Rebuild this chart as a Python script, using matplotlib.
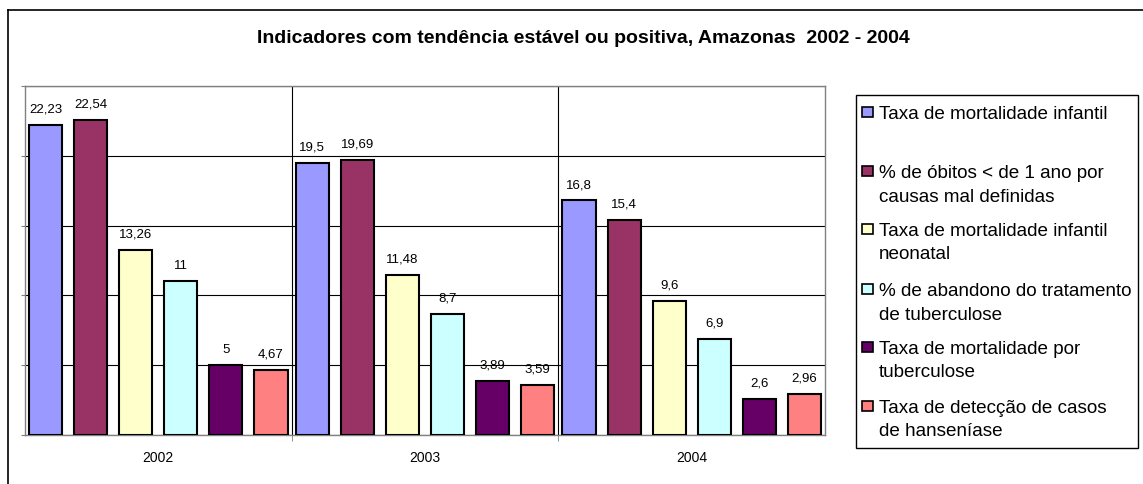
import matplotlib.pyplot as plt
import numpy as np
from matplotlib.patches import Rectangle

plt.rcParams["font.family"] = ["Liberation Sans", "DejaVu Sans"]

# anos (categorias) e séries
anos = ["2002", "2003", "2004"]
series = [
    "Taxa de mortalidade infantil",
    "% de óbitos < de 1 ano por\ncausas mal definidas",
    "Taxa de mortalidade infantil\nneonatal",
    "% de abandono do tratamento\nde tuberculose",
    "Taxa de mortalidade por\ntuberculose",
    "Taxa de detecção de casos\nde hanseníase",
]
mortalidade_infantil = [22.23, 19.5, 16.8]
obitos_mal_definidos = [22.54, 19.69, 15.4]
mortalidade_neonatal = [13.26, 11.48, 9.6]
abandono_tuberculose = [11, 8.7, 6.9]
mortalidade_tuberculose = [5, 3.89, 2.6]
deteccao_hanseniase = [4.67, 3.59, 2.96]
rotulos = [
    ["22,23", "19,5", "16,8"],
    ["22,54", "19,69", "15,4"],
    ["13,26", "11,48", "9,6"],
    ["11", "8,7", "6,9"],
    ["5", "3,89", "2,6"],
    ["4,67", "3,59", "2,96"],
]
cores = ["#9999FF", "#993366", "#FFFFCC", "#CCFFFF", "#660066", "#FF8080"]

valores = [
    mortalidade_infantil,
    obitos_mal_definidos,
    mortalidade_neonatal,
    abandono_tuberculose,
    mortalidade_tuberculose,
    deteccao_hanseniase,
]

W, H = 1143, 485
fig = plt.figure(figsize=(W / 100, H / 100), dpi=100)


def fx(px):
    return px / W


def fy(py):
    return 1 - py / H


# borda externa do gráfico (parte dela fica fora da imagem)
fig.add_artist(plt.Line2D([fx(8), fx(8)], [fy(11), 0], color="black", lw=1.2))
fig.add_artist(plt.Line2D([fx(8), 1], [fy(11), fy(11)], color="black", lw=1.2))

ax = fig.add_axes([fx(25), fy(436), fx(825) - fx(25), fy(87) - fy(436)])

x = np.arange(len(anos))
passo = 0.169
largura = 0.124
for i, (vals, cor) in enumerate(zip(valores, cores)):
    pos = x + (i - 2.5) * passo
    barras = ax.bar(pos, vals, largura, color=cor, edgecolor="black",
                    linewidth=1.5, zorder=3)
    for b, r in zip(barras, rotulos[i]):
        ax.annotate(r, (b.get_x() + b.get_width() / 2, b.get_height()),
                    xytext=(0, 7.5), textcoords="offset points",
                    ha="center", va="bottom", fontsize=9.5)

ax.set_xlim(-0.5, 2.5)
ax.set_ylim(0, 25)
ax.set_yticks(np.arange(0, 26, 5))
ax.set_yticklabels([])
ax.yaxis.grid(True, color="black", lw=0.8, zorder=0)
ax.tick_params(axis="y", length=3, color="#808080")

ax.set_xticks(x)
ax.set_xticklabels(anos, fontsize=10)
ax.tick_params(axis="x", length=0, pad=11)
ax.set_xticks([0.5, 1.5], minor=True)
ax.tick_params(axis="x", which="minor", length=4, color="#808080")
for xv in [0.5, 1.5]:
    ax.axvline(xv, color="black", lw=0.8, zorder=0)

for s in ax.spines.values():
    s.set_color("#808080")
    s.set_linewidth(1.0)

fig.text(fx(583), fy(38.5),
         "Indicadores com tendência estável ou positiva, Amazonas  2002 - 2004",
         ha="center", va="center", fontsize=14, fontweight="bold")

# legenda
fig.add_artist(Rectangle((fx(856), fy(449)), fx(1138) - fx(856), fy(96) - fy(449),
                         transform=fig.transFigure, fill=False,
                         edgecolor="black", lw=1.0))
linhas_y = [113, 172, 230, 290, 348, 407]
for nome, cor, yy in zip(series, cores, linhas_y):
    fig.add_artist(Rectangle((fx(862), fy(yy + 5)), fx(11), 10 / H,
                             transform=fig.transFigure, facecolor=cor,
                             edgecolor="black", lw=1.2))
    fig.text(fx(879), fy(yy - 7), nome, ha="left", va="top",
             fontsize=13.6, linespacing=1.5)

fig.savefig("out.png", dpi=100)
